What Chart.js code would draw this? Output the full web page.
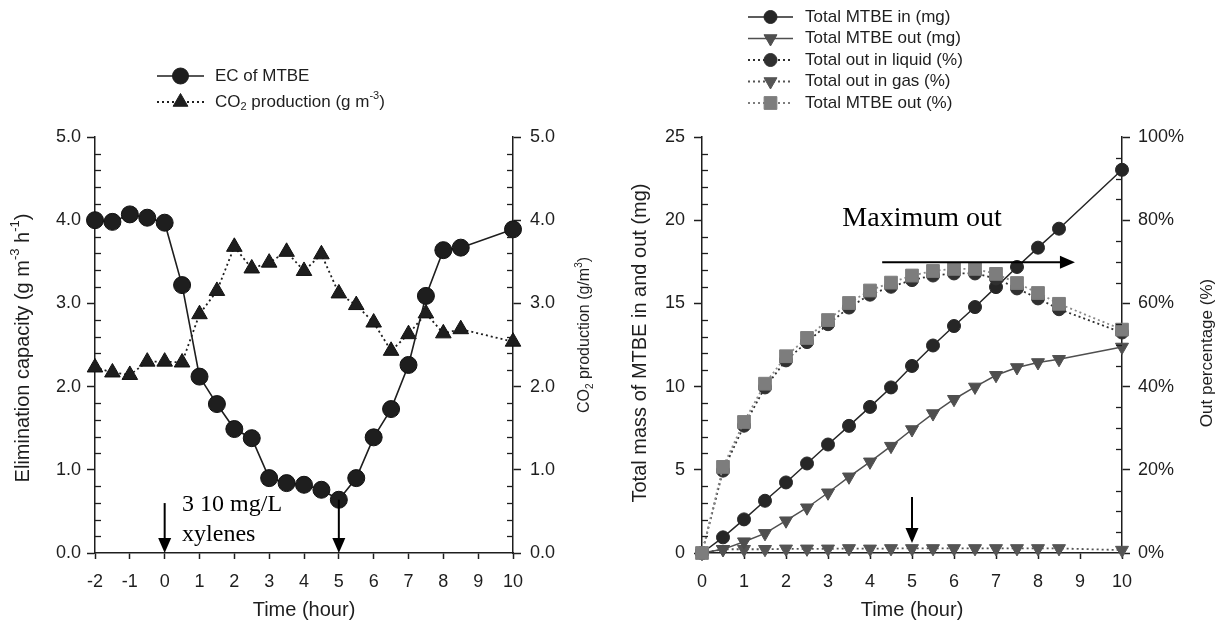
<!DOCTYPE html>
<html>
<head>
<meta charset="utf-8">
<title>MTBE elimination</title>
<script src="https://cdn.jsdelivr.net/npm/chart.js@4.4.1/dist/chart.umd.min.js"></script>
<style>
  html, body { margin: 0; padding: 0; background: #fff; }
  #wrap { position: relative; width: 1226px; height: 626px; }
  .box { position: absolute; top: 0; width: 613px; height: 626px; }
</style>
</head>
<body>
<div id="wrap">
  <div class="box" style="left:0"><canvas id="left-chart"></canvas></div>
  <div class="box" style="left:613px"><canvas id="right-chart"></canvas></div>
</div>
<script>
// ---- left panel: EC and CO2 production ----
const leftTime = [-2, -1.5, -1, -0.5, 0, 0.5, 1, 1.5, 2, 2.5, 3, 3.5, 4, 4.5, 5, 5.5, 6, 6.5, 7, 7.5, 8, 8.5, 10];
const ecMTBE = [4.00, 3.98, 4.07, 4.03, 3.97, 3.22, 2.12, 1.79, 1.49, 1.38, 0.90, 0.84, 0.82, 0.76, 0.64, 0.90, 1.39, 1.73, 2.26, 3.09, 3.64, 3.67, 3.89];
const co2Prod = [2.23, 2.17, 2.14, 2.30, 2.30, 2.29, 2.87, 3.15, 3.68, 3.42, 3.49, 3.62, 3.39, 3.59, 3.12, 2.98, 2.77, 2.43, 2.63, 2.88, 2.64, 2.69, 2.54];

// ---- right panel: mass balance ----
const rightTime = [0, 0.5, 1, 1.5, 2, 2.5, 3, 3.5, 4, 4.5, 5, 5.5, 6, 6.5, 7, 7.5, 8, 8.5, 10];
const mtbeIn = [0, 0.94, 2.02, 3.14, 4.24, 5.38, 6.52, 7.64, 8.78, 9.95, 11.24, 12.47, 13.64, 14.78, 15.98, 17.19, 18.35, 19.49, 23.03];
const mtbeOut = [0, 0.22, 0.68, 1.18, 1.94, 2.72, 3.62, 4.58, 5.48, 6.42, 7.42, 8.38, 9.24, 9.98, 10.68, 11.15, 11.45, 11.64, 12.38];
const outLiquidPct = [0, 19.8, 30.6, 39.8, 46.3, 50.7, 55.0, 59.0, 62.1, 64.0, 65.6, 66.7, 67.2, 67.2, 66.0, 63.6, 61.2, 58.6, 53.0];
const outGasPct = [0, 0.9, 0.9, 0.9, 1.0, 1.0, 1.0, 1.1, 1.0, 1.1, 1.1, 1.1, 1.1, 1.1, 1.1, 1.1, 1.1, 1.1, 0.7];
const outTotalPct = [0, 20.7, 31.5, 40.7, 47.3, 51.7, 56.0, 60.1, 63.1, 65.0, 66.7, 67.8, 68.3, 68.3, 67.1, 64.9, 62.5, 59.9, 53.7];

const SANS = "'Liberation Sans', Arial, sans-serif";
const SERIF = "'Liberation Serif', 'Times New Roman', serif";
const INK = '#1e1e1e';
const DOTS = [2, 3];

function series(xs, ys) {
    return xs.map((x, i) => ({ x: x, y: ys[i] }));
}

// --- drawing helpers ---
function drawMarker(ctx, style, x, y, r, fill) {
    ctx.save();
    ctx.fillStyle = fill;
    ctx.strokeStyle = fill;
    ctx.beginPath();
    if (style === 'circle') {
        ctx.arc(x, y, r, 0, Math.PI * 2);
    } else if (style === 'rect') {
        const s = Math.SQRT1_2 * r;
        ctx.rect(x - s, y - s, 2 * s, 2 * s);
    } else {
        const dir = style === 'down' ? -1 : 1;
        const w = r * Math.sqrt(3) / 2;
        ctx.moveTo(x, y - dir * r);
        ctx.lineTo(x - w, y + dir * r / 2);
        ctx.lineTo(x + w, y + dir * r / 2);
        ctx.closePath();
    }
    ctx.fill();
    ctx.stroke();
    ctx.restore();
}

function richText(ctx, parts, x, y, size, angle, align) {
    ctx.save();
    ctx.translate(x, y);
    ctx.rotate(angle || 0);
    const fontOf = k => (k === 'n' ? size : Math.round(size * 0.65)) + 'px ' + SANS;
    let total = 0;
    parts.forEach(([t, k]) => { ctx.font = fontOf(k); total += ctx.measureText(t).width; });
    let cx = align === 'center' ? -total / 2 : 0;
    ctx.textAlign = 'left';
    ctx.textBaseline = 'middle';
    ctx.fillStyle = INK;
    parts.forEach(([t, k]) => {
        ctx.font = fontOf(k);
        const dy = k === 'sup' ? -size * 0.38 : k === 'sub' ? size * 0.3 : 0;
        ctx.fillText(t, cx, dy);
        cx += ctx.measureText(t).width;
    });
    ctx.restore();
}

function arrow(ctx, x1, y1, x2, y2) {
    const a = Math.atan2(y2 - y1, x2 - x1);
    const len = 15, half = 6.5;
    ctx.save();
    ctx.strokeStyle = '#000';
    ctx.fillStyle = '#000';
    ctx.lineWidth = 2;
    ctx.beginPath();
    ctx.moveTo(x1, y1);
    ctx.lineTo(x2 - Math.cos(a) * len * 0.8, y2 - Math.sin(a) * len * 0.8);
    ctx.stroke();
    ctx.beginPath();
    ctx.moveTo(x2, y2);
    ctx.lineTo(x2 - Math.cos(a) * len - Math.sin(a) * half, y2 - Math.sin(a) * len + Math.cos(a) * half);
    ctx.lineTo(x2 - Math.cos(a) * len + Math.sin(a) * half, y2 - Math.sin(a) * len - Math.cos(a) * half);
    ctx.closePath();
    ctx.fill();
    ctx.restore();
}

function minorTicks(chart, id, step, majorStep) {
    const s = chart.scales[id];
    const ctx = chart.ctx;
    const onLeft = s.position === 'left';
    const x0 = onLeft ? s.right : s.left;
    const n = Math.round((s.max - s.min) / step);
    ctx.save();
    ctx.strokeStyle = INK;
    ctx.lineWidth = 1.3;
    for (let i = 1; i < n; i++) {
        const v = s.min + i * step;
        if (Math.abs(v / majorStep - Math.round(v / majorStep)) < 1e-6) continue;
        const y = Math.round(s.getPixelForValue(v)) + 0.5;
        ctx.beginPath();
        ctx.moveTo(x0, y);
        ctx.lineTo(x0 + (onLeft ? 6 : -6), y);
        ctx.stroke();
    }
    ctx.restore();
}

function legendRow(ctx, y, x1, x2, dotted, marker, r, color, textX, parts) {
    ctx.save();
    ctx.strokeStyle = color;
    ctx.lineWidth = dotted ? 1.8 : 1.6;
    ctx.setLineDash(dotted ? DOTS : []);
    ctx.beginPath();
    ctx.moveTo(x1, y);
    ctx.lineTo(x2, y);
    ctx.stroke();
    ctx.restore();
    drawMarker(ctx, marker, (x1 + x2) / 2, y, r, color);
    richText(ctx, parts, textX, y, 17, 0, 'left');
}

function axisCfg(extra) {
    return Object.assign({
        type: 'linear',
        grid: { drawOnChartArea: false, drawTicks: true, tickLength: 8, tickWidth: 1.5, tickColor: INK },
        border: { display: true, color: INK, width: 1.5 },
        ticks: { color: INK, font: { family: SANS, size: 18 } }
    }, extra);
}

function xAxis(min, max) {
    return axisCfg({
        position: 'bottom', min: min, max: max,
        afterFit: s => { s.height = 73; },
        grid: { drawOnChartArea: false, drawTicks: true, tickLength: 6, tickWidth: 1.5, tickColor: INK },
        ticks: { stepSize: 1, padding: 12, color: INK, font: { family: SANS, size: 18 } }
    });
}

const baseOptions = {
    responsive: true,
    maintainAspectRatio: false,
    animation: false,
    devicePixelRatio: 1,
    layout: { padding: { top: 137, left: 0, right: 0, bottom: 0 } },
    plugins: { legend: { display: false }, tooltip: { enabled: false } },
    elements: { line: { tension: 0 } }
};

// --- left chart ---
const leftExtras = {
    id: 'leftExtras',
    afterDraw(chart) {
        const ctx = chart.ctx;
        const xs = chart.scales.x, ys = chart.scales.y;
        minorTicks(chart, 'y', 0.2, 1);
        minorTicks(chart, 'y2', 0.2, 1);

        richText(ctx, [['Elimination capacity (g m', 'n'], ['-3', 'sup'], [' h', 'n'], ['-1', 'sup'], [')', 'n']], 23, 348, 20, -Math.PI / 2, 'center');
        richText(ctx, [['CO', 'n'], ['2', 'sub'], [' production (g/m', 'n'], ['3', 'sup'], [')', 'n']], 585, 335, 16, -Math.PI / 2, 'center');
        richText(ctx, [['Time (hour)', 'n']], (chart.chartArea.left + chart.chartArea.right) / 2, 610, 20, 0, 'center');

        legendRow(ctx, 76, 157, 204, false, 'circle', 8, INK, 215, [['EC of MTBE', 'n']]);
        legendRow(ctx, 102, 157, 204, true, 'up', 8.5, INK, 215,
            [['CO', 'n'], ['2', 'sub'], [' production (g m', 'n'], ['-3', 'sup'], [')', 'n']]);

        arrow(ctx, xs.getPixelForValue(0), ys.getPixelForValue(0.6), xs.getPixelForValue(0), ys.getPixelForValue(0));
        arrow(ctx, xs.getPixelForValue(5), ys.getPixelForValue(0.64), xs.getPixelForValue(5), ys.getPixelForValue(0));
        ctx.save();
        ctx.fillStyle = '#000';
        ctx.font = '24px ' + SERIF;
        ctx.textAlign = 'left';
        ctx.textBaseline = 'middle';
        ctx.fillText('3 10 mg/L', xs.getPixelForValue(0.5), ys.getPixelForValue(0.58));
        ctx.fillText('xylenes', xs.getPixelForValue(0.5), ys.getPixelForValue(0.22));
        ctx.restore();
    }
};

new Chart(document.getElementById('left-chart'), {
    type: 'line',
    data: {
        datasets: [{
            label: 'EC of MTBE',
            data: series(leftTime, ecMTBE),
            yAxisID: 'y',
            borderColor: INK,
            borderWidth: 1.6,
            backgroundColor: INK,
            pointStyle: 'circle',
            pointRadius: 8.5,
            pointBorderWidth: 1,
            pointBorderColor: '#111',
            order: 0,
            clip: false
        }, {
            label: 'CO2 production (g m-3)',
            data: series(leftTime, co2Prod),
            yAxisID: 'y2',
            borderColor: INK,
            borderWidth: 1.8,
            borderDash: DOTS,
            backgroundColor: INK,
            pointStyle: 'triangle',
            pointRadius: 9,
            pointBorderWidth: 1,
            pointBorderColor: '#111',
            order: 1,
            clip: false
        }]
    },
    options: Object.assign({}, baseOptions, {
        scales: {
            x: xAxis(-2, 10),
            y: axisCfg({
                position: 'left', min: 0, max: 5,
                afterFit: s => { s.width = 95; },
                ticks: { stepSize: 1, padding: 6, color: INK, font: { family: SANS, size: 18 }, callback: v => v.toFixed(1) }
            }),
            y2: axisCfg({
                position: 'right', min: 0, max: 5,
                afterFit: s => { s.width = 100; },
                ticks: { stepSize: 1, padding: 9, color: INK, font: { family: SANS, size: 18 }, callback: v => v.toFixed(1) }
            })
        }
    }),
    plugins: [leftExtras]
});

// --- right chart ---
const rightExtras = {
    id: 'rightExtras',
    afterDraw(chart) {
        const ctx = chart.ctx;
        const xs = chart.scales.x, ym = chart.scales.ym;
        minorTicks(chart, 'ym', 1, 5);
        minorTicks(chart, 'yp', 5, 20);

        richText(ctx, [['Total mass of MTBE in and out (mg)', 'n']], 27, 343, 20, -Math.PI / 2, 'center');
        richText(ctx, [['Out percentage (%)', 'n']], 594, 353, 17, -Math.PI / 2, 'center');
        richText(ctx, [['Time (hour)', 'n']], (chart.chartArea.left + chart.chartArea.right) / 2, 610, 20, 0, 'center');

        const rows = [
            [false, 'circle', 6.5, '#262626', 'Total MTBE in (mg)'],
            [false, 'down', 7.5, '#4f4f4f', 'Total MTBE out (mg)'],
            [true, 'circle', 6.5, '#303030', 'Total out in liquid (%)'],
            [true, 'down', 7.5, '#555555', 'Total out in gas (%)'],
            [true, 'rect', 9, '#7d7d7d', 'Total MTBE out (%)']
        ];
        rows.forEach((r, i) => {
            legendRow(ctx, 17 + i * 21.5, 135, 180, r[0], r[1], r[2], r[3], 192, [[r[4], 'n']]);
        });

        ctx.save();
        ctx.fillStyle = '#000';
        ctx.font = '28px ' + SERIF;
        ctx.textAlign = 'center';
        ctx.textBaseline = 'middle';
        ctx.fillText('Maximum out', xs.getPixelForValue(5.24), ym.getPixelForValue(20.1));
        ctx.restore();
        arrow(ctx, xs.getPixelForValue(4.29), ym.getPixelForValue(17.47), xs.getPixelForValue(8.88), ym.getPixelForValue(17.47));
        arrow(ctx, xs.getPixelForValue(5), ym.getPixelForValue(3.36), xs.getPixelForValue(5), ym.getPixelForValue(0.6));
    }
};

function rightSet(label, ys, axis, style, radius, color, dotted, order) {
    return {
        label: label,
        data: series(rightTime, ys),
        yAxisID: axis,
        borderColor: dotted ? (style === 'rect' ? '#8a8a8a' : color) : color,
        borderWidth: dotted ? 1.8 : 1.5,
        borderDash: dotted ? DOTS : [],
        backgroundColor: color,
        pointBackgroundColor: color,
        pointBorderColor: color,
        pointBorderWidth: 1,
        pointStyle: style === 'down' ? 'triangle' : style,
        rotation: style === 'down' ? 180 : 0,
        pointRadius: radius,
        order: order,
        clip: false
    };
}

new Chart(document.getElementById('right-chart'), {
    type: 'line',
    data: {
        datasets: [
            rightSet('Total MTBE in (mg)', mtbeIn, 'ym', 'circle', 6.5, '#262626', false, 2),
            rightSet('Total MTBE out (mg)', mtbeOut, 'ym', 'down', 7.5, '#4f4f4f', false, 3),
            rightSet('Total out in liquid (%)', outLiquidPct, 'yp', 'circle', 6.5, '#303030', true, 1),
            rightSet('Total out in gas (%)', outGasPct, 'yp', 'down', 7.5, '#555555', true, 4),
            rightSet('Total MTBE out (%)', outTotalPct, 'yp', 'rect', 9, '#7d7d7d', true, 0)
        ]
    },
    options: Object.assign({}, baseOptions, {
        scales: {
            x: xAxis(0, 10),
            ym: axisCfg({
                position: 'left', min: 0, max: 25,
                afterFit: s => { s.width = 89; },
                ticks: { stepSize: 5, padding: 9, color: INK, font: { family: SANS, size: 18 } }
            }),
            yp: axisCfg({
                position: 'right', min: 0, max: 100,
                afterFit: s => { s.width = 104; },
                ticks: { stepSize: 20, padding: 8, color: INK, font: { family: SANS, size: 18 }, callback: v => v + '%' }
            })
        }
    }),
    plugins: [rightExtras]
});
</script>
</body>
</html>
